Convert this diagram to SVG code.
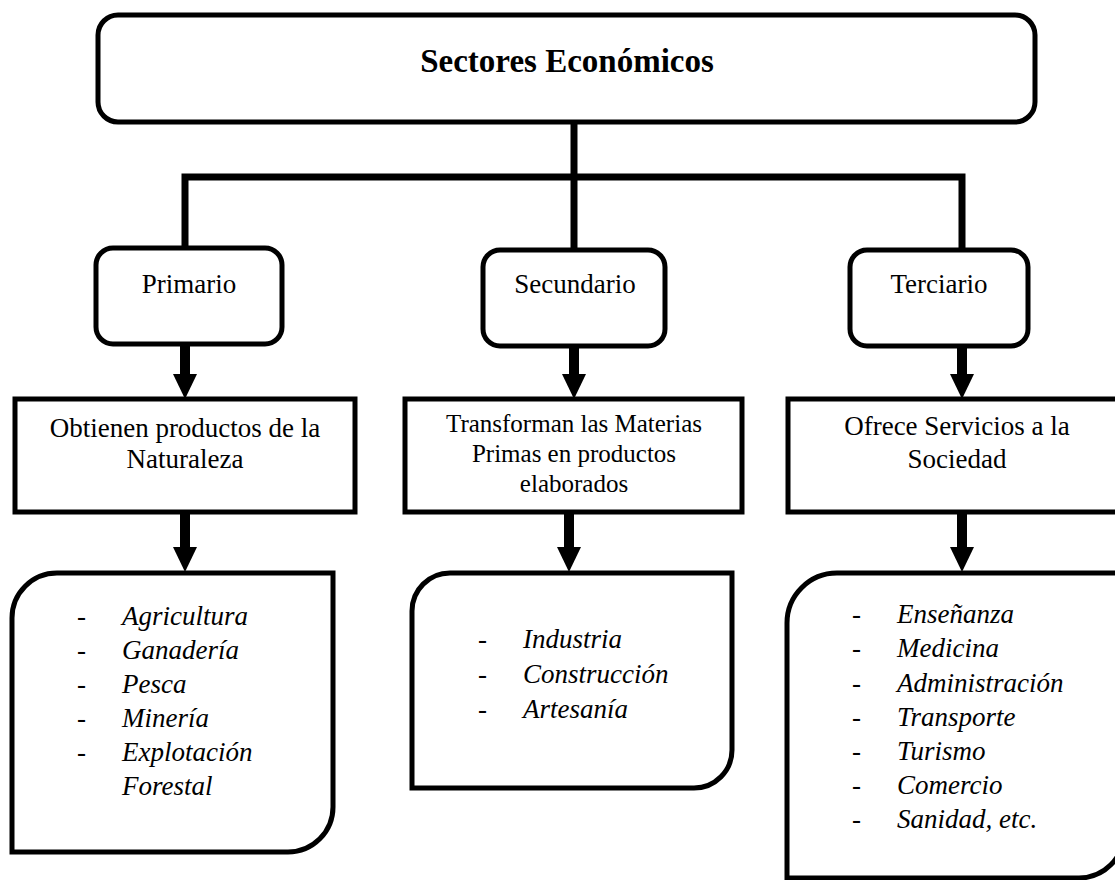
<svg xmlns="http://www.w3.org/2000/svg" width="1115" height="880" viewBox="0 0 1115 880">
  <defs>
    <style>
      .box { fill: #fff; stroke: #000; stroke-width: 5; }
      .conn { fill: none; stroke: #000; stroke-width: 7; }
      .shaft { fill: none; stroke: #000; stroke-width: 10; }
      text { font-family: "Liberation Serif", "Times New Roman", serif; fill: #000; }
      .title { font-size: 33px; font-weight: bold; text-anchor: middle; }
      .lbl { font-size: 27px; text-anchor: middle; }
      .lbl2 { font-size: 25px; text-anchor: middle; }
      .item { font-size: 27px; font-style: italic; }
      .dash { font-size: 27px; }
    </style>
    <marker id="ah" markerUnits="userSpaceOnUse" markerWidth="26" markerHeight="26" refX="0" refY="12" orient="auto">
      <path d="M0,0 L25,12 L0,24 Z" fill="#000"/>
    </marker>
  </defs>
  <rect width="1115" height="880" fill="#fff"/>

  <g id="connectors">
    <path class="conn" d="M574,122 V177"/>
    <path class="conn" d="M185,248 V177 H962 V250"/>
    <path class="conn" d="M574,177 V250"/>
    <line class="shaft" x1="185" y1="344" x2="185" y2="374" marker-end="url(#ah)"/>
    <line class="shaft" x1="574" y1="346" x2="574" y2="374" marker-end="url(#ah)"/>
    <line class="shaft" x1="962" y1="346" x2="962" y2="374" marker-end="url(#ah)"/>
    <line class="shaft" x1="185" y1="512" x2="185" y2="547" marker-end="url(#ah)"/>
    <line class="shaft" x1="569" y1="512" x2="569" y2="547" marker-end="url(#ah)"/>
    <line class="shaft" x1="962" y1="512" x2="962" y2="547" marker-end="url(#ah)"/>
  </g>

  <g id="sectores">
    <rect class="box" x="98" y="15" width="937" height="107" rx="20"/>
    <text class="title" x="567" y="72">Sectores Económicos</text>
  </g>

  <g id="primario">
    <rect class="box" x="96" y="248" width="186" height="96" rx="17"/>
    <text class="lbl" x="189" y="293">Primario</text>
  </g>
  <g id="secundario">
    <rect class="box" x="483" y="250" width="182" height="96" rx="17"/>
    <text class="lbl" x="575" y="293">Secundario</text>
  </g>
  <g id="terciario">
    <rect class="box" x="850" y="250" width="178" height="96" rx="17"/>
    <text class="lbl" x="939" y="293">Terciario</text>
  </g>

  <g id="desc-primario">
    <rect class="box" x="15" y="399" width="340" height="113"/>
    <text class="lbl" x="185" y="437">Obtienen productos de la</text>
    <text class="lbl" x="185" y="468">Naturaleza</text>
  </g>
  <g id="desc-secundario">
    <rect class="box" x="405" y="399" width="337" height="113"/>
    <text class="lbl2" x="574" y="432">Transforman las Materias</text>
    <text class="lbl2" x="574" y="462">Primas en productos</text>
    <text class="lbl2" x="574" y="492">elaborados</text>
  </g>
  <g id="desc-terciario">
    <rect class="box" x="788" y="399" width="338" height="113"/>
    <text class="lbl" x="957" y="435">Ofrece Servicios a la</text>
    <text class="lbl" x="957" y="468">Sociedad</text>
  </g>

  <g id="lista-primario">
    <path class="box" d="M12,618 A45,45 0 0 1 57,573 L333,573 L333,807 A45,45 0 0 1 288,852 L12,852 Z"/>
    <text class="dash" x="77" y="625">-</text><text class="item" x="122" y="625">Agricultura</text>
    <text class="dash" x="77" y="659">-</text><text class="item" x="122" y="659">Ganadería</text>
    <text class="dash" x="77" y="693">-</text><text class="item" x="122" y="693">Pesca</text>
    <text class="dash" x="77" y="727">-</text><text class="item" x="122" y="727">Minería</text>
    <text class="dash" x="77" y="761">-</text><text class="item" x="122" y="761">Explotación</text>
    <text class="item" x="122" y="795">Forestal</text>
  </g>

  <g id="lista-secundario">
    <path class="box" d="M412,611 A38,38 0 0 1 450,573 L732,573 L732,750 A38,38 0 0 1 694,788 L412,788 Z"/>
    <text class="dash" x="478" y="648">-</text><text class="item" x="523" y="648">Industria</text>
    <text class="dash" x="478" y="683">-</text><text class="item" x="523" y="683">Construcción</text>
    <text class="dash" x="478" y="718">-</text><text class="item" x="523" y="718">Artesanía</text>
  </g>

  <g id="lista-terciario">
    <path class="box" d="M787,623 A50,50 0 0 1 837,573 L1124,573 L1124,833 A45,45 0 0 1 1079,878 L787,878 Z"/>
    <text class="dash" x="852" y="623">-</text><text class="item" x="897" y="623">Enseñanza</text>
    <text class="dash" x="852" y="657">-</text><text class="item" x="897" y="657">Medicina</text>
    <text class="dash" x="852" y="692">-</text><text class="item" x="897" y="692">Administración</text>
    <text class="dash" x="852" y="726">-</text><text class="item" x="897" y="726">Transporte</text>
    <text class="dash" x="852" y="760">-</text><text class="item" x="897" y="760">Turismo</text>
    <text class="dash" x="852" y="794">-</text><text class="item" x="897" y="794">Comercio</text>
    <text class="dash" x="852" y="828">-</text><text class="item" x="897" y="828">Sanidad, etc.</text>
  </g>
</svg>
